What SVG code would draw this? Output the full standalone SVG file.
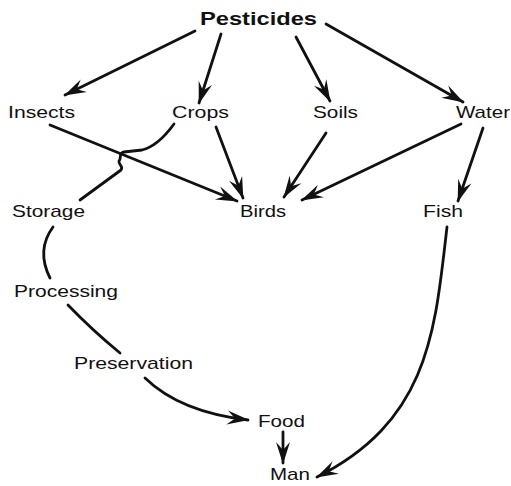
<svg xmlns="http://www.w3.org/2000/svg" width="511" height="486" viewBox="0 0 511 486">
  <style>
    .lbl { font-family: "Liberation Sans", Arial, sans-serif; font-size: 17px; fill: #111; }
    .title { font-family: "Liberation Sans", Arial, sans-serif; font-size: 19px; font-weight: bold; fill: #111; }
    .edge { fill: none; stroke: #111; stroke-width: 2.8; stroke-linecap: round; stroke-linejoin: round; }
    .arrow { marker-end: url(#barb); }
  </style>
  <defs>
    <marker id="barb" markerUnits="userSpaceOnUse" viewBox="-24 -9 26 18" refX="0" refY="0" markerWidth="26" markerHeight="18" orient="auto">
      <path d="M1,0 L-21,-7 L-13,0 L-21,7 Z" fill="#111"/>
    </marker>
  </defs>
  <rect width="511" height="486" fill="#fff"/>

  <g id="connectors">
    <line class="edge arrow" x1="195" y1="31" x2="65" y2="95"/>
    <line class="edge arrow" x1="221" y1="34" x2="199" y2="103"/>
    <line class="edge arrow" x1="296" y1="37" x2="330" y2="101"/>
    <line class="edge arrow" x1="326" y1="24" x2="463" y2="102"/>
    <line class="edge arrow" x1="50" y1="125" x2="237" y2="201"/>
    <line class="edge arrow" x1="216" y1="127" x2="243" y2="198"/>
    <line class="edge arrow" x1="326" y1="133" x2="284" y2="197"/>
    <line class="edge arrow" x1="461" y1="124" x2="302" y2="200"/>
    <line class="edge arrow" x1="483" y1="128" x2="458" y2="201"/>
    <!-- crops to storage, hopping over the insects line -->
    <path class="edge" d="M174,124 Q158,146 142,150 L124,152 C118,153 122,158 119,161 C118,165 124,166 121,170 L80,200"/>
    <path class="edge" d="M53,227 Q36,250 50,278"/>
    <path class="edge" d="M68,305 Q92,330 120,353"/>
    <path class="edge arrow" d="M145,378 Q180,412 248,420"/>
    <line class="edge arrow" x1="283" y1="432" x2="283" y2="463"/>
    <path class="edge arrow" d="M447,227 C435,330 430,420 317,477"/>
  </g>

  <g id="pesticides"><text class="title" x="200" y="25" textLength="117" lengthAdjust="spacingAndGlyphs">Pesticides</text></g>
  <g id="insects"><text class="lbl" x="8" y="118" textLength="67" lengthAdjust="spacingAndGlyphs">Insects</text></g>
  <g id="crops"><text class="lbl" x="172" y="118" textLength="57" lengthAdjust="spacingAndGlyphs">Crops</text></g>
  <g id="soils"><text class="lbl" x="313" y="118" textLength="45" lengthAdjust="spacingAndGlyphs">Soils</text></g>
  <g id="water"><text class="lbl" x="456" y="118" textLength="54" lengthAdjust="spacingAndGlyphs">Water</text></g>
  <g id="storage"><text class="lbl" x="12" y="217" textLength="73" lengthAdjust="spacingAndGlyphs">Storage</text></g>
  <g id="birds"><text class="lbl" x="240" y="217" textLength="46" lengthAdjust="spacingAndGlyphs">Birds</text></g>
  <g id="fish"><text class="lbl" x="423" y="217" textLength="40" lengthAdjust="spacingAndGlyphs">Fish</text></g>
  <g id="processing"><text class="lbl" x="14" y="297" textLength="104" lengthAdjust="spacingAndGlyphs">Processing</text></g>
  <g id="preservation"><text class="lbl" x="74" y="369" textLength="119" lengthAdjust="spacingAndGlyphs">Preservation</text></g>
  <g id="food"><text class="lbl" x="258" y="427" textLength="47" lengthAdjust="spacingAndGlyphs">Food</text></g>
  <g id="man"><text class="lbl" x="270" y="480" textLength="40" lengthAdjust="spacingAndGlyphs">Man</text></g>
</svg>
